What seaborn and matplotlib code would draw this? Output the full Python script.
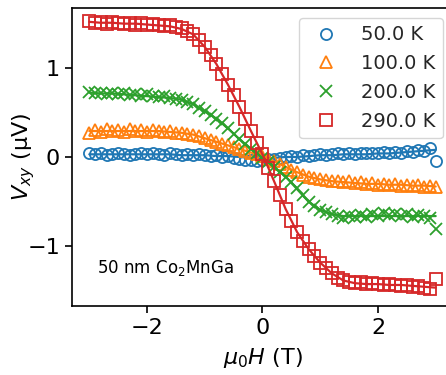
import matplotlib
matplotlib.use("Agg")
import matplotlib.pyplot as plt
import seaborn as sns

# Applied field (T) of each measured point
FIELD = [-3.0, -2.9, -2.8, -2.7, -2.6, -2.5, -2.4, -2.3, -2.2, -2.1,
         -2.0, -1.9, -1.8, -1.7, -1.6, -1.5, -1.4, -1.3, -1.2, -1.1,
         -1.0, -0.9, -0.8, -0.7, -0.6, -0.5, -0.4, -0.3, -0.2, -0.1,
         0.0, 0.1, 0.2, 0.3, 0.4, 0.5, 0.6, 0.7, 0.8, 0.9,
         1.0, 1.1, 1.2, 1.3, 1.4, 1.5, 1.6, 1.7, 1.8, 1.9,
         2.0, 2.1, 2.2, 2.3, 2.4, 2.5, 2.6, 2.7, 2.8, 2.9, 3.0]

# Measured transverse voltage (uV)
V_50K = [0.04, 0.03, 0.04, 0.02, 0.03, 0.04, 0.03, 0.02, 0.03, 0.04,
         0.03, 0.05, 0.03, 0.02, 0.04, 0.03, 0.02, 0.03, 0.02, 0.03,
         0.02, 0.01, 0.02, 0.00, 0.01, -0.01, -0.02, -0.03, -0.03, -0.04,
         -0.03, -0.02, -0.02, -0.01, 0.00, 0.01, 0.00, 0.02, 0.01, 0.02,
         0.03, 0.02, 0.03, 0.04, 0.03, 0.04, 0.03, 0.05, 0.04, 0.05,
         0.04, 0.06, 0.05, 0.06, 0.05, 0.07, 0.06, 0.08, 0.07, 0.10, -0.05]
V_100K = [0.27, 0.30, 0.28, 0.31, 0.29, 0.30, 0.28, 0.31, 0.29, 0.30,
          0.28, 0.30, 0.29, 0.28, 0.29, 0.27, 0.27, 0.26, 0.25, 0.23,
          0.21, 0.19, 0.17, 0.15, 0.13, 0.11, 0.09, 0.07, 0.05, 0.03,
          0.01, -0.02, -0.05, -0.08, -0.11, -0.14, -0.17, -0.20, -0.22, -0.24,
          -0.25, -0.26, -0.27, -0.27, -0.28, -0.27, -0.29, -0.28, -0.30, -0.29,
          -0.31, -0.30, -0.31, -0.30, -0.32, -0.31, -0.32, -0.31, -0.33, -0.32, -0.33]
V_200K = [0.73, 0.71, 0.72, 0.70, 0.72, 0.70, 0.71, 0.69, 0.70, 0.68,
          0.70, 0.68, 0.67, 0.68, 0.66, 0.65, 0.64, 0.62, 0.59, 0.55,
          0.51, 0.47, 0.43, 0.38, 0.32, 0.26, 0.20, 0.14, 0.09, 0.04,
          -0.01, -0.06, -0.11, -0.17, -0.22, -0.28, -0.35, -0.43, -0.50, -0.55,
          -0.59, -0.62, -0.64, -0.66, -0.68, -0.66, -0.67, -0.65, -0.67, -0.64,
          -0.66, -0.63, -0.65, -0.64, -0.66, -0.64, -0.67, -0.65, -0.66, -0.68, -0.81]
V_290K = [1.52, 1.50, 1.51, 1.49, 1.51, 1.50, 1.49, 1.50, 1.48, 1.50,
          1.48, 1.49, 1.47, 1.46, 1.47, 1.45, 1.44, 1.41, 1.37, 1.31,
          1.23, 1.14, 1.04, 0.93, 0.81, 0.69, 0.56, 0.43, 0.29, 0.16,
          0.03, -0.12, -0.27, -0.43, -0.58, -0.72, -0.84, -0.94, -1.03, -1.11,
          -1.18, -1.24, -1.30, -1.35, -1.38, -1.40, -1.41, -1.40, -1.42, -1.41,
          -1.42, -1.43, -1.42, -1.43, -1.44, -1.43, -1.45, -1.44, -1.46, -1.47, -1.36]

# Fitted curves (uV) on a coarser field grid (T)
FIT_FIELD = [-3.0, -2.8, -2.6, -2.4, -2.2, -2.0, -1.8, -1.6, -1.4, -1.2,
             -1.0, -0.8, -0.6, -0.4, -0.2, 0.0, 0.2, 0.4, 0.6, 0.8,
             1.0, 1.2, 1.4, 1.6, 1.8, 2.0, 2.2, 2.4, 2.6, 2.8, 3.0]
FIT_50K = [0.03, 0.03, 0.03, 0.03, 0.03, 0.03, 0.03, 0.03, 0.02, 0.02,
           0.02, 0.01, 0.01, 0.00, -0.01, -0.02, -0.01, 0.00, 0.00, 0.01,
           0.02, 0.02, 0.03, 0.03, 0.03, 0.04, 0.04, 0.05, 0.06, 0.07, 0.08]
FIT_100K = [0.29, 0.29, 0.29, 0.29, 0.29, 0.29, 0.29, 0.28, 0.27, 0.25,
            0.21, 0.17, 0.13, 0.09, 0.05, 0.01, -0.05, -0.11, -0.17, -0.22,
            -0.25, -0.27, -0.28, -0.29, -0.30, -0.30, -0.31, -0.31, -0.32, -0.32, -0.33]
FIT_200K = [0.72, 0.71, 0.71, 0.70, 0.69, 0.68, 0.67, 0.66, 0.64, 0.59,
            0.51, 0.43, 0.32, 0.20, 0.09, -0.01, -0.11, -0.22, -0.36, -0.50,
            -0.59, -0.64, -0.66, -0.66, -0.66, -0.66, -0.66, -0.66, -0.66, -0.66, -0.66]
FIT_290K = [1.51, 1.50, 1.50, 1.49, 1.49, 1.48, 1.47, 1.46, 1.43, 1.37,
            1.23, 1.04, 0.81, 0.56, 0.29, 0.03, -0.27, -0.58, -0.84, -1.03,
            -1.18, -1.30, -1.38, -1.41, -1.42, -1.42, -1.43, -1.43, -1.44, -1.45, -1.46]

LABELS = ["50.0 K", "100.0 K", "200.0 K", "290.0 K"]
MARKERS = ["o", "^", "x", "s"]
DATA = [V_50K, V_100K, V_200K, V_290K]
FITS = [FIT_50K, FIT_100K, FIT_200K, FIT_290K]

sns.set_style("ticks")
plt.rcParams["font.family"] = ["DejaVu Sans"]
colors = sns.color_palette("tab10", 4)

fig = plt.figure(figsize=(4.46, 3.75), dpi=100)
ax = fig.add_axes([0.1614, 0.184, 0.8543, 0.7947])

for v, fit, lab, mk, c in zip(DATA, FITS, LABELS, MARKERS, colors):
    sns.lineplot(x=FIT_FIELD, y=fit, ax=ax, color=c, lw=1.6, legend=False)
    sns.lineplot(x=FIELD, y=v, ax=ax, linestyle="", marker=mk, markersize=8,
                 markerfacecolor="none", markeredgecolor=c, markeredgewidth=1.3,
                 color=c, label=lab)

ax.set_xlim(-3.3, 3.3)
ax.set_ylim(-1.665, 1.665)
ax.set_xticks([-2, 0, 2])
ax.set_yticks([-1, 0, 1])
ax.tick_params(labelsize=16, length=5, width=1.2, colors="black")
for s in ax.spines.values():
    s.set_linewidth(1.2)
    s.set_color("black")

ax.set_xlabel(r"$\mu_0H$ (T)", fontsize=16, color="black", labelpad=6)
ax.set_ylabel(r"$V_{xy}$ (μV)", fontsize=16, color="black")
ax.yaxis.set_label_coords(-0.092, 0.5)
ax.text(0.065, 0.128, r"50 nm Co$_2$MnGa", transform=ax.transAxes,
        fontsize=12, va="center", ha="left", color="black")
ax.legend(loc="upper right", fontsize=14)

fig.savefig("out.png", dpi=100)
